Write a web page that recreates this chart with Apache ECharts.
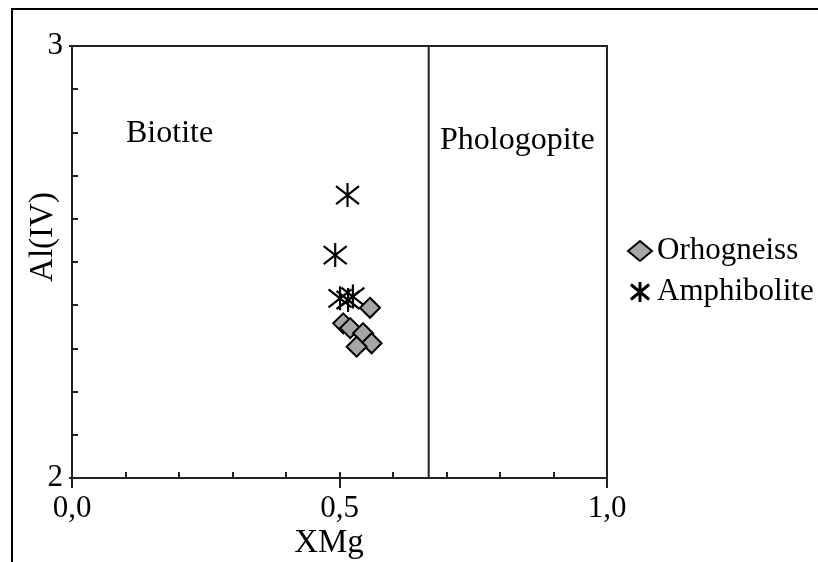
<!DOCTYPE html>
<html>
<head>
<meta charset="utf-8">
<script src="https://cdn.jsdelivr.net/npm/echarts@6/dist/echarts.min.js"></script>
<style>
html,body{margin:0;padding:0;background:#fff;}
#chart{width:818px;height:562px;}
</style>
</head>
<body>
<div id="chart"></div>
<script>
// ---- data ----
const orthogneissX = [0.557, 0.507, 0.520, 0.544, 0.560, 0.532];
const orthogneissY = [2.394, 2.358, 2.347, 2.335, 2.312, 2.304];
const amphiboliteX = [0.515, 0.492, 0.501, 0.516, 0.525];
const amphiboliteY = [2.655, 2.516, 2.416, 2.412, 2.420];
const boundaryX = [0.6667, 0.6667];
const boundaryY = [2, 3];
const xTickLabels = ['0,0', '0,5', '1,0'];
const yTickLabels = ['2', '3'];
const fieldLabels = ['Biotite', 'Phologopite'];
const axisTitles = ['XMg', 'Al(IV)'];
const seriesNames = ['Orhogneiss', 'Amphibolite'];

const FONT = "'Liberation Serif', 'Times New Roman', serif";
const starPath = 'path://M12,0 L12,24 M1,3 L23,21 M23,3 L1,21';
const AX = '#222';

const chart = echarts.init(document.getElementById('chart'), null, {renderer: 'canvas'});
const option = {
  backgroundColor: '#fff',
  animation: false,
  grid: {left: 72, top: 46, width: 535, height: 432, show: true, borderColor: AX, borderWidth: 2,
    containLabel: false, outerBoundsMode: 'none'},
  xAxis: [{
    type: 'value', min: 0, max: 1, interval: 0.5,
    axisLine: {show: true, lineStyle: {color: AX, width: 2}},
    axisTick: {show: true, inside: true, length: 6, lineStyle: {color: AX, width: 2}},
    minorTick: {show: true, splitNumber: 5, length: 6, lineStyle: {color: AX, width: 2}},
    axisLabel: {fontFamily: FONT, fontSize: 31, color: '#000', margin: 15,
      formatter: v => xTickLabels[Math.round(v / 0.5)]},
    splitLine: {show: false}, minorSplitLine: {show: false}
  }, {
    type: 'value', min: 0, max: 1, interval: 0.5, position: 'bottom',
    axisLine: {show: false},
    axisTick: {show: true, inside: false, length: 10, lineStyle: {color: AX, width: 2}},
    axisLabel: {show: false}, splitLine: {show: false}
  }],
  yAxis: [{
    type: 'value', min: 2, max: 3, interval: 1,
    axisLine: {show: true, lineStyle: {color: AX, width: 2}},
    axisTick: {show: true, inside: true, length: 6, lineStyle: {color: AX, width: 2}},
    minorTick: {show: true, splitNumber: 10, length: 6, lineStyle: {color: AX, width: 2}},
    axisLabel: {fontFamily: FONT, fontSize: 31, color: '#000', margin: 9,
      formatter: v => yTickLabels[Math.round(v - 2)]},
    splitLine: {show: false}, minorSplitLine: {show: false}
  }, {
    type: 'value', min: 2, max: 3, interval: 1, position: 'left',
    axisLine: {show: false},
    axisTick: {show: true, inside: false, length: 3, lineStyle: {color: AX, width: 2}},
    axisLabel: {show: false}, splitLine: {show: false}
  }],
  legend: {
    orient: 'vertical', left: 622, top: 229, itemGap: 7, itemWidth: 24, itemHeight: 20,
    textStyle: {fontFamily: FONT, fontSize: 31, color: '#000', lineHeight: 34},
    data: [
      {name: seriesNames[0], icon: 'diamond'},
      {name: seriesNames[1], icon: starPath, itemStyle: {color: 'transparent', borderColor: '#000', borderWidth: 3}}
    ]
  },
  graphic: [
    {type: 'rect', silent: true, z: -1, shape: {x: 12, y: 9, width: 900, height: 700},
      style: {fill: 'none', stroke: '#000', lineWidth: 2}},
    {type: 'text', left: 126, top: 118, silent: true,
      style: {text: fieldLabels[0], font: "32px 'Liberation Serif', serif", fill: '#000'}},
    {type: 'text', left: 440, top: 125, silent: true,
      style: {text: fieldLabels[1], font: "32px 'Liberation Serif', serif", fill: '#000'}},
    {type: 'text', x: 329, y: 543, silent: true,
      style: {text: axisTitles[0], font: "33px 'Liberation Serif', serif", fill: '#000',
        align: 'center', verticalAlign: 'middle'}},
    {type: 'text', x: 43, y: 237, rotation: Math.PI / 2, silent: true,
      style: {text: axisTitles[1], font: "33px 'Liberation Serif', serif", fill: '#000',
        align: 'center', verticalAlign: 'middle'}}
  ],
  series: [
    {
      name: 'boundary', type: 'line', silent: true, symbol: 'none',
      data: boundaryX.map((x, i) => [x, boundaryY[i]]),
      lineStyle: {color: AX, width: 2}, z: 1
    },
    {
      name: seriesNames[1], type: 'scatter', symbol: starPath, symbolSize: [23, 24],
      data: amphiboliteX.map((x, i) => [x, amphiboliteY[i]]),
      itemStyle: {color: 'transparent', borderColor: '#000', borderWidth: 2.2, opacity: 1}, z: 2
    },
    {
      name: seriesNames[0], type: 'scatter', symbol: 'diamond', symbolSize: 20,
      data: orthogneissX.map((x, i) => [x, orthogneissY[i]]),
      itemStyle: {color: '#a6a6a6', borderColor: '#000', borderWidth: 2, opacity: 1}, z: 3
    }
  ]
};
chart.setOption(option);
</script>
</body>
</html>
